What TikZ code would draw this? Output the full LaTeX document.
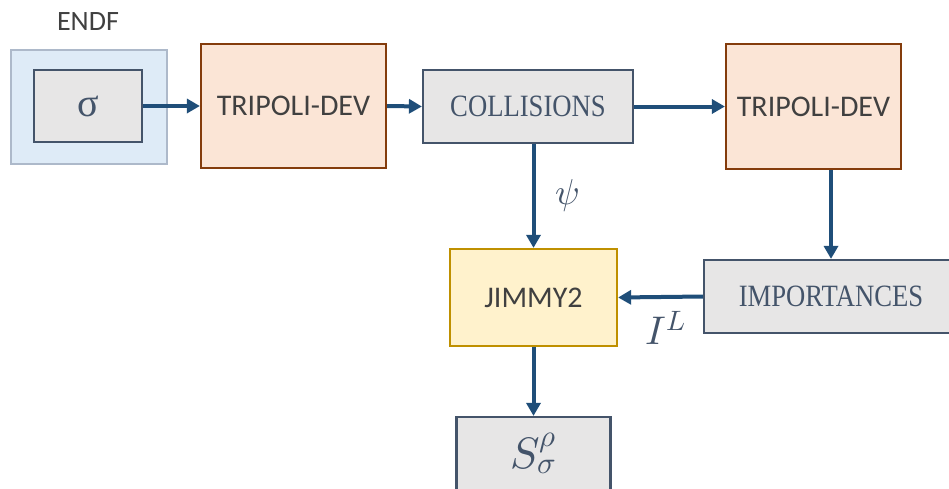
\documentclass[tikz,border=0pt]{standalone}
\usepackage{fontspec}
\usepackage{unicode-math}
\setmainfont{Carlito}
\setmathfont{Latin Modern Math}
\newfontfamily\serifc[FakeStretch=0.86]{Liberation Serif}
\newfontfamily\serifn{Liberation Serif}
\usetikzlibrary{arrows.meta}
\definecolor{arrowblue}{HTML}{1F4E79}
\definecolor{slate}{HTML}{44546A}
\definecolor{lgray}{HTML}{E7E6E6}
\definecolor{peach}{HTML}{FBE5D6}
\definecolor{rust}{HTML}{843C0C}
\definecolor{cream}{HTML}{FFF2CC}
\definecolor{gold}{HTML}{BF9000}
\definecolor{lblue}{HTML}{DEEBF7}
\definecolor{lblueb}{HTML}{ADB9CA}
\definecolor{txt}{HTML}{404040}
\tikzset{
  box/.style={rectangle, inner sep=0pt, line width=2.2pt},
  graybox/.style={box, draw=slate, fill=lgray, text=slate},
  toolbox/.style={box, draw=rust, fill=peach, text=txt, font=\fontsize{30}{36}\selectfont},
  jimbox/.style={box, draw=gold, fill=cream, text=txt, font=\fontsize{30}{36}\selectfont},
  flow/.style={draw=arrowblue, line width=4pt, -{Triangle[length=13pt,width=14pt]}},
  mlabel/.style={text=slate, inner sep=0pt}
}
\begin{document}
\begin{tikzpicture}[x=1pt,y=-1pt]
\useasboundingbox (0,0) rectangle (949,488);
\node[box, draw=lblueb, fill=lblue, minimum width=156pt, minimum height=114pt] (endf) at (89,107) {};
\node[text=txt, font=\fontsize{28}{32}\selectfont] (endflabel) at (88,22) {ENDF};
\node[graybox, line width=2.5pt, minimum width=108pt, minimum height=72pt, font=\serifn\fontsize{40}{44}\selectfont] (sigma) at (88,106) {σ};
\node[toolbox, minimum width=185pt, minimum height=124pt] (trip1) at (293.5,106) {TRIPOLI-DEV};
\node[graybox, minimum width=210pt, minimum height=73pt, font=\serifc\fontsize{31}{36}\selectfont] (coll) at (528,106.5) {COLLISIONS};
\node[toolbox, minimum width=175pt, minimum height=125pt] (trip2) at (813.5,106.5) {TRIPOLI-DEV};
\node[jimbox, minimum width=167pt, minimum height=97pt] (jimmy) at (533.5,297.5) {JIMMY2};
\node[graybox, minimum width=254pt, minimum height=73pt, font=\serifc\fontsize{31}{36}\selectfont] (imp) at (831,296.5) {IMPORTANCES};
\node[graybox, minimum width=154pt, minimum height=73pt, font=\fontsize{44}{50}\selectfont] (sout) at (533.5,453.5) {$S_\sigma^\rho$};
\draw[flow] (sigma.east) -- (trip1.west);
\draw[flow] (trip1.east) -- (coll.west);
\draw[flow] (coll.east) -- (trip2.west);
\draw[flow] (jimmy.north |- coll.south) -- (jimmy.north);
\draw[flow] (imp.north |- trip2.south) -- (imp.north);
\draw[flow] (imp.west) -- (jimmy.east);
\draw[flow] (jimmy.south) -- (sout.north);
\node[mlabel, font=\fontsize{36}{40}\selectfont] (psi) at (567,196) {$\psi$};
\node[mlabel, font=\fontsize{40}{46}\selectfont] (il) at (666,328) {$I^L$};
\end{tikzpicture}
\end{document}
